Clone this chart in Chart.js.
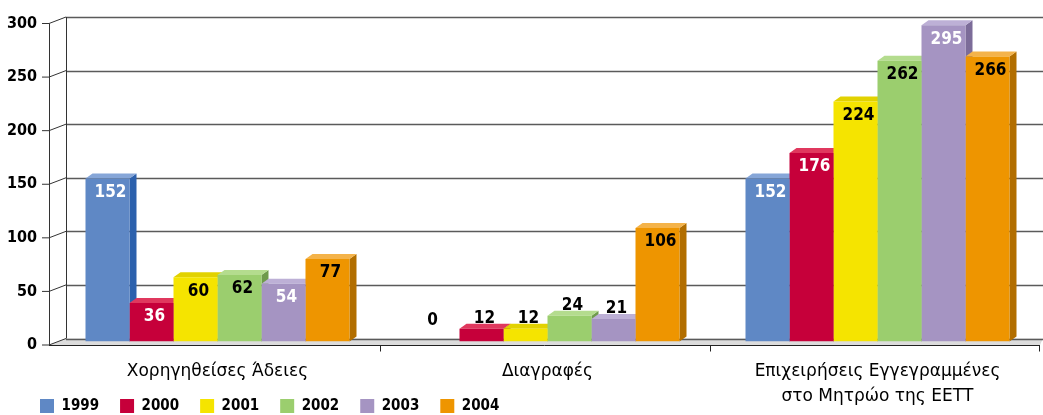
<!DOCTYPE html>
<html>
<head>
<meta charset="utf-8">
<script src="https://cdn.jsdelivr.net/npm/chart.js@4.4.1/dist/chart.umd.min.js"></script>
<style>
  html, body { margin: 0; padding: 0; background: #fff; }
</style>
</head>
<body>
<canvas id="chart" width="1043" height="415"></canvas>
<script>
// data
const categories = [
    ["Χορηγηθείσες Άδειες"],
    ["Διαγραφές"],
    ["Επιχειρήσεις Εγγεγραμμένες", "στο Μητρώο της ΕΕΤΤ"]
];
const years = ["1999", "2000", "2001", "2002", "2003", "2004"];
const values1999 = [152, 0, 152];
const values2000 = [36, 12, 176];
const values2001 = [60, 12, 224];
const values2002 = [62, 24, 262];
const values2003 = [54, 21, 295];
const values2004 = [77, 106, 266];
const yTicks = [0, 50, 100, 150, 200, 250, 300];

// styles
const FONT = "'DejaVu Sans Condensed', 'DejaVu Sans', sans-serif";
const frontColors = ["#5f88c5", "#c6003a", "#f5e400", "#9bce6e", "#a594c2", "#ee9500"];
const sideColors  = ["#2c61ad", "#8a0029", "#c7b600", "#6f9b4c", "#7c6c99", "#b26e00"];
const topColors   = ["#86a6d8", "#e0385e", "#e2d200", "#b4dc8e", "#bdb0d6", "#f4b34a"];
const labelColors = ["#fff", "#fff", "#000", "#000", "#fff", "#000"];

const FRONT = 3.5;   // front axis offset below bar scale
const BACK = -3;     // back wall offset above bar scale
const AXIS_X = 49;   // front axis
const WALL_X = 66;   // back wall left edge
const BAR_DX = 7, BAR_DY = 5;

const allValues = [values1999, values2000, values2001, values2002, values2003, values2004];

const depthPlugin = {
    id: "depth",
    afterLayout(chart) {
        // let tick labels use the whole canvas edge (no clipping at the axis box)
        chart.scales.y.left = 0;
        chart.scales.x.bottom = chart.height;
    },
    beforeDatasetsDraw(chart) {
        const { ctx } = chart;
        const xs = chart.scales.x, ys = chart.scales.y;
        const right = chart.width;
        const frontRight = right - 3;
        const y0 = ys.getPixelForValue(0);

        ctx.save();
        // floor
        ctx.fillStyle = "#dcdcdc";
        ctx.beginPath();
        ctx.moveTo(AXIS_X, y0 + FRONT);
        ctx.lineTo(WALL_X, y0 + BACK);
        ctx.lineTo(right, y0 + BACK);
        ctx.lineTo(frontRight, y0 + FRONT);
        ctx.closePath();
        ctx.fill();

        // back gridlines
        ctx.strokeStyle = "#5a5a5a";
        ctx.lineWidth = 1.5;
        yTicks.forEach(v => {
            const by = Math.round(ys.getPixelForValue(v) + BACK) + 0.5;
            ctx.beginPath();
            ctx.moveTo(WALL_X, by);
            ctx.lineTo(right, by);
            ctx.stroke();
        });

        // back wall edge, front axis, connectors
        ctx.strokeStyle = "#333";
        ctx.lineWidth = 1;
        const topV = yTicks[yTicks.length - 1];
        ctx.beginPath();
        ctx.moveTo(WALL_X + 0.5, ys.getPixelForValue(topV) + BACK);
        ctx.lineTo(WALL_X + 0.5, y0 + BACK);
        ctx.moveTo(AXIS_X + 0.5, ys.getPixelForValue(topV) + FRONT);
        ctx.lineTo(AXIS_X + 0.5, y0 + FRONT);
        yTicks.forEach(v => {
            const fy = ys.getPixelForValue(v) + FRONT;
            const by = ys.getPixelForValue(v) + BACK;
            ctx.moveTo(AXIS_X - 7, fy);
            ctx.lineTo(AXIS_X, fy);
            ctx.lineTo(WALL_X, by);
        });
        ctx.stroke();

        // front floor edge and category ticks
        ctx.strokeStyle = "#222";
        ctx.beginPath();
        const fy0 = Math.round(y0 + FRONT) + 0.5;
        ctx.moveTo(AXIS_X, fy0);
        ctx.lineTo(frontRight, fy0);
        const half = (xs.getPixelForValue(1) - xs.getPixelForValue(0)) / 2;
        for (let i = 0; i < categories.length; i++) {
            const bx = Math.min(Math.round(xs.getPixelForValue(i) + half) - 2.5, frontRight - 0.5);
            ctx.moveTo(bx, fy0);
            ctx.lineTo(bx, fy0 + 6);
        }
        ctx.stroke();

        // bar sides and tops
        for (let c = 0; c < categories.length; c++) {
            chart.data.datasets.forEach((ds, d) => {
                const bar = chart.getDatasetMeta(d).data[c];
                const p = bar.getProps(["x", "y", "base", "width"], true);
                if (p.base - p.y < 0.5) return;
                const x1 = p.x - p.width / 2, x2 = p.x + p.width / 2;
                ctx.fillStyle = sideColors[d];
                ctx.beginPath();
                ctx.moveTo(x2, p.y);
                ctx.lineTo(x2 + BAR_DX, p.y - BAR_DY);
                ctx.lineTo(x2 + BAR_DX, p.base - BAR_DY);
                ctx.lineTo(x2, p.base);
                ctx.closePath();
                ctx.fill();
                ctx.fillStyle = topColors[d];
                ctx.beginPath();
                ctx.moveTo(x1, p.y);
                ctx.lineTo(x1 + BAR_DX, p.y - BAR_DY);
                ctx.lineTo(x2 + BAR_DX, p.y - BAR_DY);
                ctx.lineTo(x2, p.y);
                ctx.closePath();
                ctx.fill();
            });
        }
        ctx.restore();
    },
    afterDatasetsDraw(chart) {
        const { ctx } = chart;
        ctx.save();
        ctx.font = "bold 17px " + FONT;
        ctx.textAlign = "center";
        ctx.textBaseline = "middle";
        chart.data.datasets.forEach((ds, d) => {
            chart.getDatasetMeta(d).data.forEach((bar, i) => {
                const p = bar.getProps(["x", "y", "base"], true);
                const h = p.base - p.y;
                let ty, tx = p.x + 3, col;
                if (h < 30) {
                    ty = Math.min(p.y - 10, p.base - 21);
                    col = "#000";
                    if (h < 0.5) tx = p.x - 5;
                } else {
                    ty = p.y + 14;
                    col = labelColors[d];
                }
                ctx.fillStyle = col;
                ctx.fillText(String(ds.data[i]), tx, ty);
            });
        });
        ctx.restore();
    }
};

new Chart(document.getElementById("chart"), {
    type: "bar",
    data: {
        labels: categories,
        datasets: years.map((yr, i) => ({
            label: yr,
            data: allValues[i],
            backgroundColor: frontColors[i],
            borderWidth: 0,
            categoryPercentage: 0.8,
            barPercentage: 1.0
        }))
    },
    options: {
        responsive: false,
        devicePixelRatio: 1,
        animation: false,
        layout: { padding: { left: 19, top: 20, right: 0.5, bottom: 0 } },
        scales: {
            x: {
                grid: { display: false, drawTicks: false, tickLength: 0 },
                border: { display: false },
                ticks: {
                    color: "#000",
                    font: { family: "'DejaVu Sans', sans-serif", size: 17, lineHeight: 1.47 },
                    padding: 18,
                    maxRotation: 0,
                    autoSkip: false
                },
                afterFit(scale) { scale.height = 36; }
            },
            y: {
                min: 0,
                max: 300,
                grid: { display: false, drawTicks: false, tickLength: 0 },
                border: { display: false },
                ticks: {
                    stepSize: 50,
                    color: "#000",
                    font: { family: FONT, size: 16, weight: "bold" },
                    padding: 15.5,
                    labelOffset: FRONT
                },
                afterFit(scale) {
                    scale.width = 33.5;
                    scale.paddingTop = 0;
                    scale.paddingBottom = 0;
                }
            }
        },
        plugins: {
            legend: {
                position: "bottom",
                align: "start",
                maxHeight: 37.5,
                labels: {
                    boxWidth: 14,
                    boxHeight: 14,
                    padding: 21,
                    color: "#000",
                    font: { family: FONT, size: 15, weight: "bold" }
                }
            },
            tooltip: { enabled: false }
        }
    },
    plugins: [depthPlugin]
});
</script>
</body>
</html>
